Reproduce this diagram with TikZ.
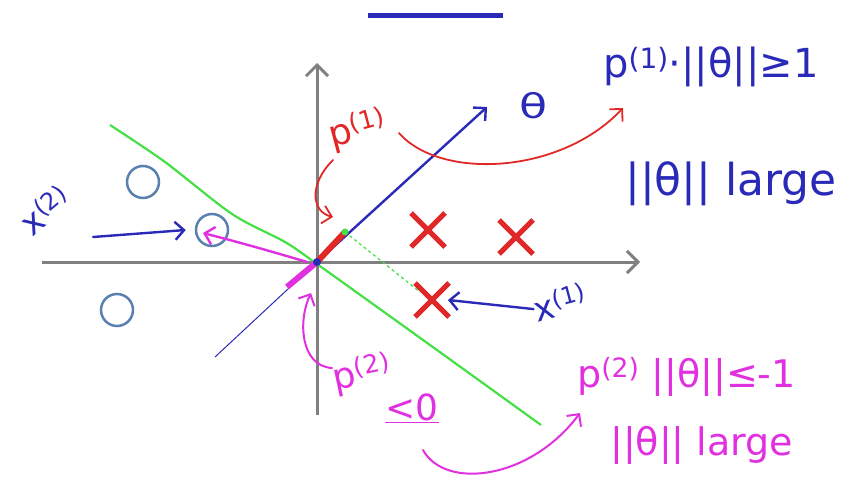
\documentclass[tikz,border=0pt]{standalone}
\usepackage{fontspec}
\setmainfont{DejaVu Sans}
\usepackage{tikz}
\usetikzlibrary{arrows.meta, positioning}
\definecolor{mPenBlue}{HTML}{2A2AB8}
\definecolor{mPenRed}{HTML}{E02828}
\definecolor{mPenMagenta}{HTML}{E030E0}
\definecolor{mPenGreen}{HTML}{44E044}
\definecolor{mAxisGray}{HTML}{808080}
\definecolor{mRingBlue}{HTML}{5A80B0}
\tikzset{
  pen/.style={line width=2.4pt, line cap=round, -{Straight Barb[length=9pt, width=18pt]}},
  hand/.style={inner sep=0pt, font=\fontsize{#1}{#1}\selectfont},
  axis/.style={mAxisGray, line width=3pt, -{Straight Barb[length=11pt, width=22pt]}},
  ring/.style={circle, draw=mRingBlue, line width=2.5pt, minimum size=32pt, inner sep=0pt},
}

\begin{document}
\begin{tikzpicture}[x=1pt, y=-1pt]
    \useasboundingbox (0,0) rectangle (857,500);
    \coordinate (O) at (317,262);
    \coordinate (xL) at (42,262);  \coordinate (xR) at (640,262);
    \coordinate (yB) at (317,415); \coordinate (yT) at (317,63);
    \coordinate (thTip) at (487,107); \coordinate (thTail) at (215,357);
    \coordinate (p1end) at (345,232); \coordinate (p2end) at (287,287);
    \draw[mPenBlue, line width=5pt] (368,16) -- (503,16);
    \draw[axis] (xL) -- (xR);
    \draw[axis] (yB) -- (yT);
    \draw[mPenGreen, line width=2.2pt] plot[smooth] coordinates
      {(110,125) (165,162) (232,214) (285,242) (317,264) (430,345) (541,425)};
    \foreach \cx/\cy [count=\i] in {143/182, 212/230, 117/310}
      \node[ring] (ring\i) at (\cx,\cy) {};
    \foreach \cx/\cy [count=\i] in {428/230, 516/237, 432/300} {
      \coordinate (cross\i) at (\cx,\cy);
      \draw[mPenRed, line width=5pt] ([shift={(-17,-17)}]cross\i) -- ([shift={(17,17)}]cross\i)
        ([shift={(-17,17)}]cross\i) -- ([shift={(17,-17)}]cross\i);
    }
    \draw[mPenGreen, dashed, line width=1.3pt] (p1end) -- ([shift={(-12,-8)}]cross3);
    \draw[mPenBlue, line width=1pt] (O) -- (thTail);
    \draw[pen, mPenBlue] (O) -- (thTip);
    \draw[mPenRed, line width=6pt] (O) -- (p1end);
    \draw[mPenMagenta, line width=6pt] (O) -- (p2end);
    \fill[mPenBlue] (O) circle (4);
    \fill[mPenGreen] (p1end) circle (3.5);
    % labels
    \node[hand=34, mPenBlue, xscale=1.35] (thetaLab) at (534,106) {θ};
    \node[hand=40, mPenBlue, anchor=base west] (ineq1) at (603,78) {p\textsuperscript{(1)}·||θ||≥1};
    \node[hand=44, mPenBlue, anchor=base west] (large1) at (625,195) {||θ|| large};
    \node[hand=36, mPenRed, rotate=15] (p1lab) at (358,130) {p\textsuperscript{(1)}};
    \node[hand=34, mPenBlue, rotate=15] (x1lab) at (560,302) {x\textsuperscript{(1)}};
    \node[hand=34, mPenBlue, rotate=40] (x2lab) at (45,210) {x\textsuperscript{(2)}};
    \node[hand=36, mPenMagenta, rotate=12] (p2lab) at (362,374) {p\textsuperscript{(2)}};
    \node[hand=36, mPenMagenta] (le0) at (412,408) {\underline{<0}};
    \node[hand=38, mPenMagenta, anchor=base west] (ineq2) at (577,387) {p\textsuperscript{(2)} ||θ||≤-1};
    \node[hand=38, mPenMagenta, anchor=base west] (large2) at (610,455) {||θ|| large};
    % arrows
    \draw[pen, mPenRed, line width=1.8pt] (399,133) .. controls (440,180) and (560,175) .. (623,108);
    \draw[pen, mPenRed, line width=1.8pt] (333,160) .. controls (308,185) and (312,212) .. (333,217);
    \draw[pen, mPenBlue] (93,237) -- ([xshift=-9pt]ring2.west);
    \draw[pen, mPenMagenta] ([xshift=-10pt]O) .. controls (260,248) and (230,240) .. (203,233);
    \draw[pen, mPenBlue] (x1lab.west) -- ([xshift=16pt]cross3);
    \draw[pen, mPenMagenta, line width=2pt] (332,368) .. controls (300,366) and (298,320) .. (311,293);
    \draw[pen, mPenMagenta, line width=2pt] (423,450) .. controls (445,490) and (530,480) .. (580,413);
\end{tikzpicture}
\end{document}
